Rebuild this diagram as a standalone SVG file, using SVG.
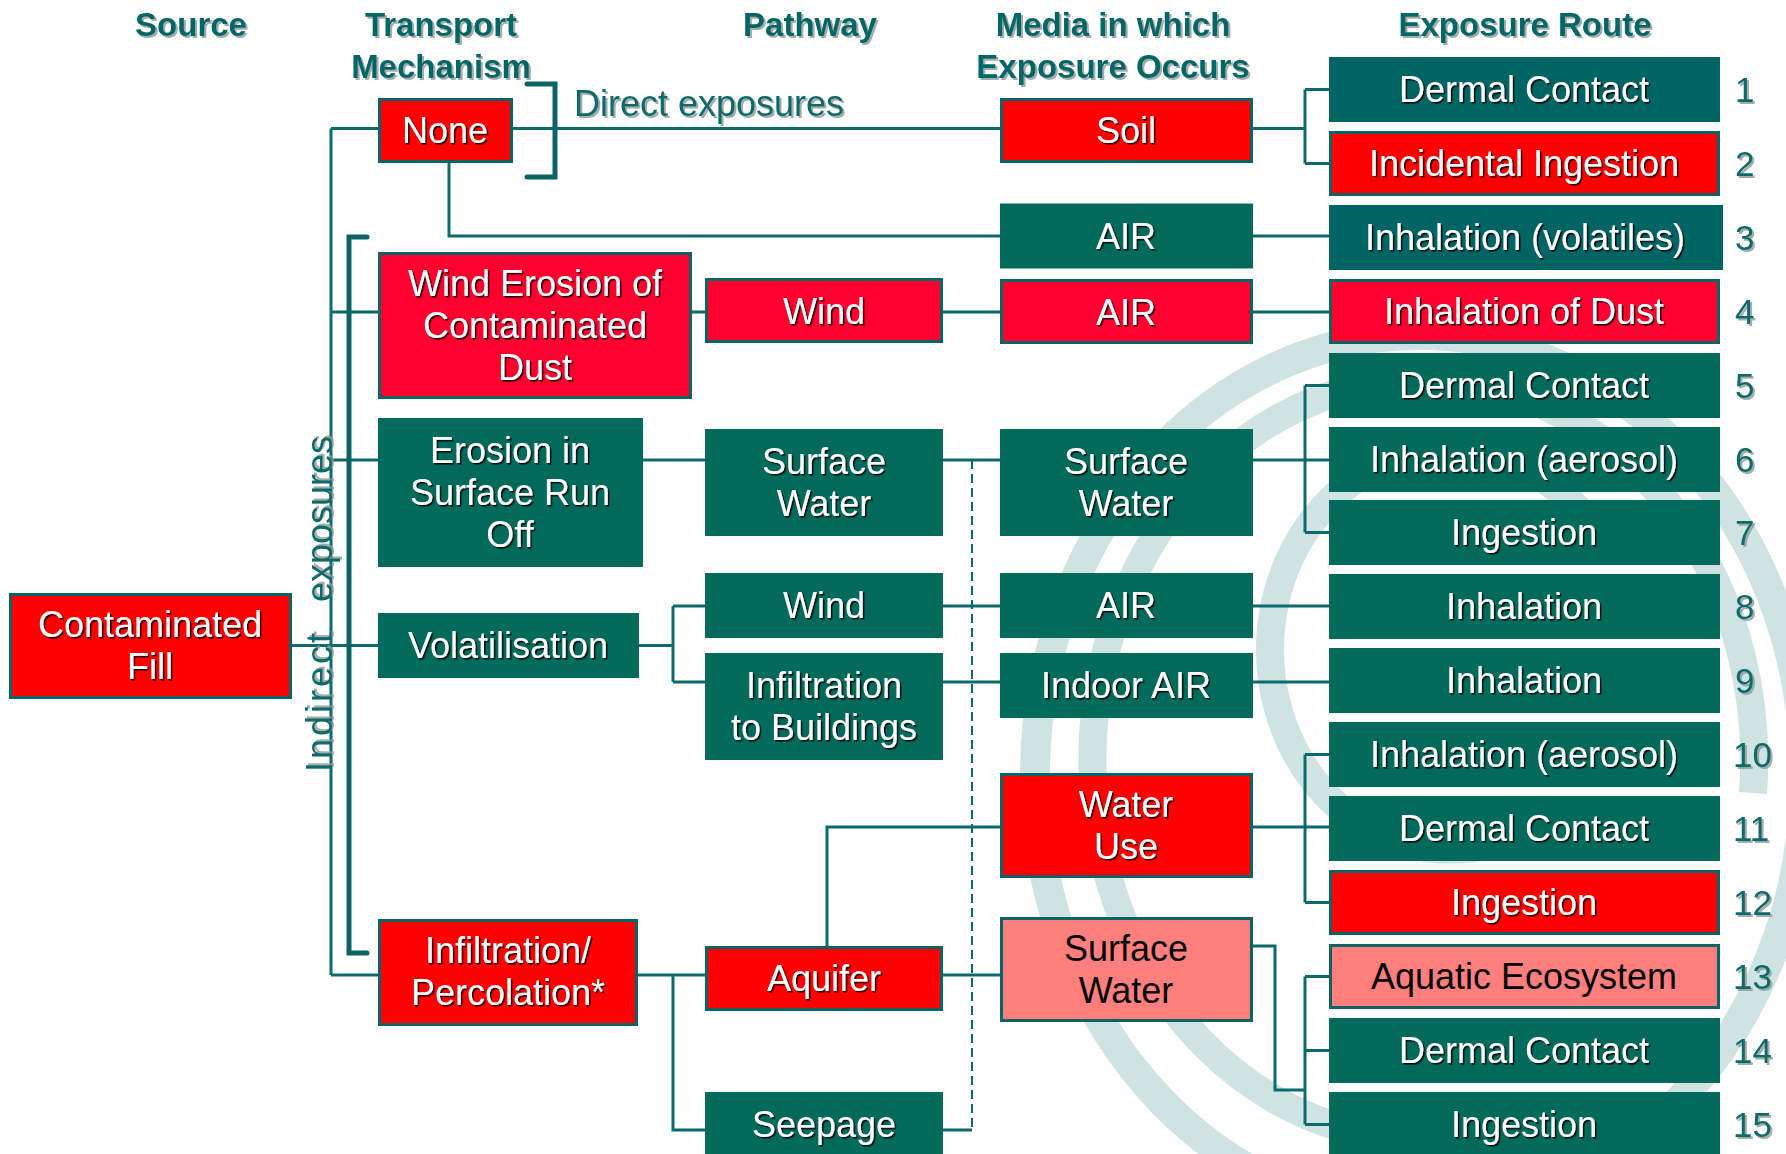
<svg xmlns="http://www.w3.org/2000/svg" width="1786" height="1154" viewBox="0 0 1786 1154">
<defs>
<filter id="sh" x="-5%" y="-20%" width="115%" height="150%"><feDropShadow dx="1.6" dy="1.6" stdDeviation="0.4" flood-color="#000" flood-opacity="0.85"/></filter>
<filter id="hsh" x="-5%" y="-20%" width="115%" height="150%"><feDropShadow dx="2" dy="2" stdDeviation="0.6" flood-color="#8a9a9a" flood-opacity="0.8"/></filter>
<style>
.t{font-family:"Liberation Sans",Arial,sans-serif;font-size:36px;fill:#fff;text-anchor:middle;filter:url(#sh)}
.tk{font-family:"Liberation Sans",Arial,sans-serif;font-size:36px;fill:#000;text-anchor:middle}
.hd{font-family:"Liberation Sans",Arial,sans-serif;font-size:33px;font-weight:bold;fill:#006666;text-anchor:middle;filter:url(#hsh)}
.lab{font-family:"Liberation Sans",Arial,sans-serif;font-size:36px;fill:#0a6a6a;filter:url(#hsh)}
.num{font-family:"Liberation Sans",Arial,sans-serif;font-size:35px;fill:#0a6a6a;filter:url(#hsh)}
.red{fill:#ff0000;stroke:#0b6363;stroke-width:3}
.crim{fill:#ff002e;stroke:#0b6363;stroke-width:3}
.pink{fill:#ff7f7f;stroke:#0b6363;stroke-width:3}
.teal{fill:#026a5b}
.teal2{fill:#006464}
.ln{fill:none;stroke:#0b6b6b;stroke-width:3}
.br{fill:none;stroke:#0b6363;stroke-width:5;stroke-linecap:round;stroke-linejoin:miter}
.dash{fill:none;stroke:#0b6b6b;stroke-width:2;stroke-dasharray:9 5}
.wm{fill:none;stroke:#cfe3e3}
</style>
</defs>
<rect width="1786" height="1154" fill="#fff"/>
<g id="watermark">
<ellipse class="wm" cx="1420" cy="775" rx="385" ry="440" stroke-width="30"/>
<path class="wm" stroke-width="28" d="M1753,793 A331,380 0 1,0 1366,1134"/>
<path class="wm" stroke-width="28" d="M1606,550 A180,200 0 1,0 1540,823"/>
</g>
<g id="headers">
<text class="hd" x="191" y="36">Source</text>
<text class="hd" x="441" y="36">Transport</text>
<text class="hd" x="441" y="78">Mechanism</text>
<text class="hd" x="810" y="36">Pathway</text>
<text class="hd" x="1113" y="36">Media in which</text>
<text class="hd" x="1113" y="78">Exposure Occurs</text>
<text class="hd" x="1525" y="36">Exposure Route</text>
</g>
<g id="connectors">
<path class="ln" d="M292,645.5 H673 M331,128.5 V975 M331,128.5 H1000 M331,312 H1329 M331,460 H1329 M673,606 V682 M673,606 H1329 M673,682 H1329 M449,163 V236 H1329 M1253,128.5 H1305 M1305,89.5 V163.5 M1305,89.5 H1329 M1305,163.5 H1329 M1305,385.5 V532.5 M1305,385.5 H1329 M1305,532.5 H1329 M331,975 H1000 M673,975 V1130 H705 M827,946 V827 H1329 M1305,754.5 V902.5 M1305,754.5 H1329 M1305,902.5 H1329 M1253,946 H1275 V1090 H1305 M1305,976.5 V1124.5 M1305,976.5 H1329 M1305,1050.5 H1329 M1305,1124.5 H1329 M943,1130 H972"/>
<path class="dash" d="M972,460 V1130"/>
<path class="br" d="M527,84 H555 V177 H527"/>
<path class="br" d="M367,237 H349 V953 H367"/>
<text class="lab" x="574" y="116">Direct exposures</text>
<text class="lab" font-size="35" transform="translate(332,772) rotate(-90)"><tspan x="0" y="0" letter-spacing="3">Indirect</tspan><tspan x="170" y="0">exposures</tspan></text>
</g>
<g id="source">
<rect class="red" x="10.5" y="594.5" width="280" height="103"/>
<text class="t" x="150" y="637">Contaminated</text>
<text class="t" x="150" y="679">Fill</text>
</g>
<g id="t-none">
<rect class="red" x="379.5" y="99.5" width="132" height="62"/>
<text class="t" x="445" y="143">None</text>
</g>
<g id="t-wind-erosion">
<rect class="crim" x="379.5" y="253.5" width="311" height="144"/>
<text class="t" x="535" y="296">Wind Erosion of</text>
<text class="t" x="535" y="338">Contaminated</text>
<text class="t" x="535" y="380">Dust</text>
</g>
<g id="t-erosion">
<rect class="teal" x="378" y="418" width="265" height="149"/>
<text class="t" x="510" y="463">Erosion in</text>
<text class="t" x="510" y="505">Surface Run</text>
<text class="t" x="510" y="547">Off</text>
</g>
<g id="t-volatilisation">
<rect class="teal" x="378" y="613" width="261" height="65"/>
<text class="t" x="508" y="658">Volatilisation</text>
</g>
<g id="t-infiltration">
<rect class="red" x="379.5" y="920.5" width="257" height="104"/>
<text class="t" x="508" y="963">Infiltration/</text>
<text class="t" x="508" y="1005">Percolation*</text>
</g>
<g id="p-wind-red">
<rect class="crim" x="706.5" y="279.5" width="235" height="62"/>
<text class="t" x="824" y="324">Wind</text>
</g>
<g id="p-surface-water">
<rect class="teal" x="705" y="429" width="238" height="107"/>
<text class="t" x="824" y="474">Surface</text>
<text class="t" x="824" y="516">Water</text>
</g>
<g id="p-wind-teal">
<rect class="teal" x="705" y="573" width="238" height="65"/>
<text class="t" x="824" y="618">Wind</text>
</g>
<g id="p-infiltration-buildings">
<rect class="teal" x="705" y="653" width="238" height="107"/>
<text class="t" x="824" y="698">Infiltration</text>
<text class="t" x="824" y="740">to Buildings</text>
</g>
<g id="p-aquifer">
<rect class="red" x="706.5" y="947.5" width="235" height="62"/>
<text class="t" x="824" y="991">Aquifer</text>
</g>
<g id="p-seepage">
<rect class="teal" x="705" y="1092" width="238" height="66"/>
<text class="t" x="824" y="1137">Seepage</text>
</g>
<g id="m-soil">
<rect class="red" x="1001.5" y="99.5" width="250" height="62"/>
<text class="t" x="1126" y="143">Soil</text>
</g>
<g id="m-air1">
<rect class="teal" x="1000" y="203.5" width="253" height="65"/>
<text class="t" x="1126" y="249">AIR</text>
</g>
<g id="m-air2">
<rect class="crim" x="1001.5" y="280.5" width="250" height="62"/>
<text class="t" x="1126" y="325">AIR</text>
</g>
<g id="m-surface-water">
<rect class="teal" x="1000" y="429" width="253" height="107"/>
<text class="t" x="1126" y="474">Surface</text>
<text class="t" x="1126" y="516">Water</text>
</g>
<g id="m-air3">
<rect class="teal" x="1000" y="573" width="253" height="65"/>
<text class="t" x="1126" y="618">AIR</text>
</g>
<g id="m-indoor-air">
<rect class="teal" x="1000" y="653" width="253" height="65"/>
<text class="t" x="1126" y="698">Indoor AIR</text>
</g>
<g id="m-water-use">
<rect class="red" x="1001.5" y="774.5" width="250" height="102"/>
<text class="t" x="1126" y="817">Water</text>
<text class="t" x="1126" y="859">Use</text>
</g>
<g id="m-surface-water-pink">
<rect class="pink" x="1001.5" y="918.5" width="250" height="102"/>
<text class="tk" x="1126" y="961">Surface</text>
<text class="tk" x="1126" y="1003">Water</text>
</g>
<g id="r1"><rect class="teal2" x="1329" y="57" width="391" height="65"/><text class="t" x="1524" y="102">Dermal Contact</text><text class="num" x="1735" y="102">1</text></g>
<g id="r2"><rect class="red" x="1330.5" y="132.5" width="388" height="62"/><text class="t" x="1524" y="176">Incidental Ingestion</text><text class="num" x="1735" y="176">2</text></g>
<g id="r3"><rect class="teal2" x="1329" y="205" width="394" height="65"/><text class="t" x="1525" y="250">Inhalation (volatiles)</text><text class="num" x="1735" y="250">3</text></g>
<g id="r4"><rect class="crim" x="1330.5" y="280.5" width="388" height="62"/><text class="t" x="1524" y="324">Inhalation of Dust</text><text class="num" x="1735" y="324">4</text></g>
<g id="r5"><rect class="teal" x="1329" y="353" width="391" height="65"/><text class="t" x="1524" y="398">Dermal Contact</text><text class="num" x="1735" y="398">5</text></g>
<g id="r6"><rect class="teal" x="1329" y="427" width="391" height="65"/><text class="t" x="1524" y="472">Inhalation (aerosol)</text><text class="num" x="1735" y="472">6</text></g>
<g id="r7"><rect class="teal" x="1329" y="500" width="391" height="65"/><text class="t" x="1524" y="545">Ingestion</text><text class="num" x="1735" y="545">7</text></g>
<g id="r8"><rect class="teal" x="1329" y="574" width="391" height="65"/><text class="t" x="1524" y="619">Inhalation</text><text class="num" x="1735" y="619">8</text></g>
<g id="r9"><rect class="teal" x="1329" y="648" width="391" height="65"/><text class="t" x="1524" y="693">Inhalation</text><text class="num" x="1735" y="693">9</text></g>
<g id="r10"><rect class="teal" x="1329" y="722" width="391" height="65"/><text class="t" x="1524" y="767">Inhalation (aerosol)</text><text class="num" x="1733" y="767">10</text></g>
<g id="r11"><rect class="teal" x="1329" y="796" width="391" height="65"/><text class="t" x="1524" y="841">Dermal Contact</text><text class="num" x="1733" y="841">11</text></g>
<g id="r12"><rect class="red" x="1330.5" y="871.5" width="388" height="62"/><text class="t" x="1524" y="915">Ingestion</text><text class="num" x="1733" y="915">12</text></g>
<g id="r13"><rect class="pink" x="1330.5" y="945.5" width="388" height="62"/><text class="tk" x="1524" y="989">Aquatic Ecosystem</text><text class="num" x="1733" y="989">13</text></g>
<g id="r14"><rect class="teal" x="1329" y="1018" width="391" height="65"/><text class="t" x="1524" y="1063">Dermal Contact</text><text class="num" x="1733" y="1063">14</text></g>
<g id="r15"><rect class="teal" x="1329" y="1092" width="391" height="66"/><text class="t" x="1524" y="1137">Ingestion</text><text class="num" x="1733" y="1137">15</text></g>
</svg>
